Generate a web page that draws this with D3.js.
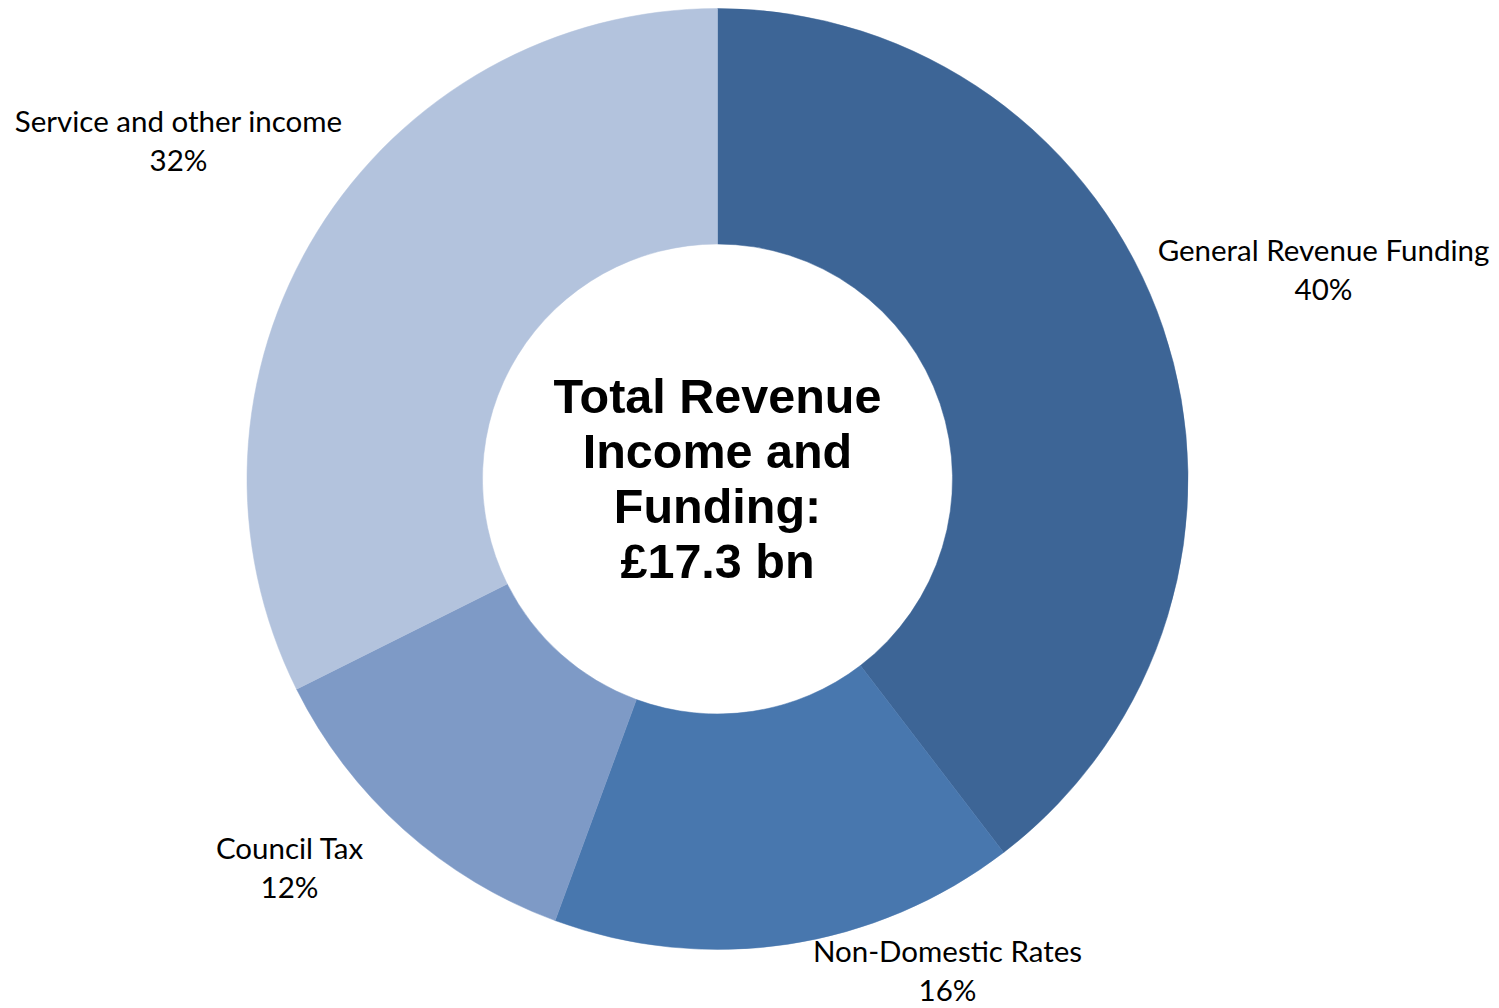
<!DOCTYPE html>
<html>
<head>
<meta charset="utf-8">
<script src="https://cdn.jsdelivr.net/npm/d3@7"></script>
<style>
  html, body { margin: 0; padding: 0; background: #fff; }
  svg { display: block; }
</style>
</head>
<body>
<svg id="chart" width="1499" height="1008"></svg>
<script>
// Revenue income and funding by source, £ billion
const categories = ["General Revenue Funding", "Non-Domestic Rates", "Council Tax", "Service and other income"];
const amounts = [6.85, 2.77, 2.08, 5.60];
const colors = ["#3D6596", "#4877AE", "#7E9AC6", "#B3C3DD"];
const centerLines = ["Total Revenue", "Income and", "Funding:", "£17.3 bn"];

const width = 1499, height = 1008;
const cx = 717.5, cy = 479;
const outerR = 470.5, innerR = 235;

// label anchors relative to the centre (x, y of the first line's baseline)
const labelAnchors = {
  "General Revenue Funding": [606, -218],
  "Non-Domestic Rates": [230, 483],
  "Council Tax": [-428, 380],
  "Service and other income": [-539, -347]
};

const svg = d3.select("#chart");
const g = svg.append("g").attr("transform", `translate(${cx},${cy})`);

const total = d3.sum(amounts);
const data = categories.map((c, i) => ({ name: c, value: amounts[i], color: colors[i] }));

const pie = d3.pie().sort(null).value(d => d.value);
const arc = d3.arc().innerRadius(innerR).outerRadius(outerR);

g.selectAll("path.slice")
  .data(pie(data))
  .join("path")
  .attr("class", "slice")
  .attr("d", arc)
  .attr("fill", d => d.data.color)
  .attr("stroke", d => d.data.color)
  .attr("stroke-width", 0.5);

// category labels with percentages
const labelFont = "Lato, 'Open Sans', sans-serif";
const pct = d3.format(".0%");
const labels = g.selectAll("text.label")
  .data(pie(data))
  .join("text")
  .attr("class", "label")
  .attr("text-anchor", "middle")
  .attr("font-family", labelFont)
  .attr("font-size", 29.5)
  .attr("fill", "#000");

labels.append("tspan")
  .attr("x", d => labelAnchors[d.data.name][0])
  .attr("y", d => labelAnchors[d.data.name][1])
  .text(d => d.data.name);
labels.append("tspan")
  .attr("x", d => labelAnchors[d.data.name][0])
  .attr("y", d => labelAnchors[d.data.name][1] + 38.5)
  .text(d => pct(d.data.value / total));

// centre title
g.append("text")
  .attr("text-anchor", "middle")
  .attr("font-family", "'Liberation Sans', Arial, sans-serif")
  .attr("font-weight", "bold")
  .attr("font-size", 48.5)
  .attr("fill", "#000")
  .selectAll("tspan")
  .data(centerLines)
  .join("tspan")
  .attr("x", 0)
  .attr("y", (d, i) => -66 + i * 55)
  .text(d => d);
</script>
</body>
</html>
